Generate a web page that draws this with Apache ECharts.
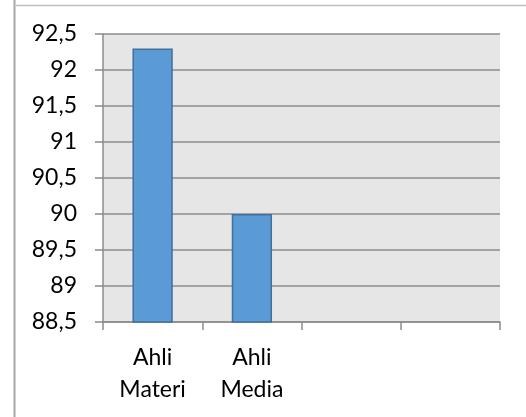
<!DOCTYPE html>
<html><head><meta charset="utf-8">
<script src="https://cdn.jsdelivr.net/npm/echarts@6/dist/echarts.min.js"></script>
<style>html,body{margin:0;padding:0;background:#fff}#c{width:526px;height:417px}</style>
</head><body><div id="c"></div>
<script>
var categories = ['Ahli\nMateri', 'Ahli\nMedia', '', ''];
var values = [92.3, 90.0, null, null];
var yMin = 88.5, yMax = 92.5, yStep = 0.5;

var chart = echarts.init(document.getElementById('c'), null, {renderer: 'canvas'});
var font = 'Lato, "Open Sans", sans-serif';
chart.setOption({
  animation: false,
  graphic: [
    {type: 'line', shape: {x1: 14.5, y1: 0, x2: 14.5, y2: 417}, style: {stroke: '#a6a6a6', lineWidth: 2}},
    {type: 'line', shape: {x1: 14, y1: 5.5, x2: 526, y2: 5.5}, style: {stroke: '#bfbfbf', lineWidth: 1.5}}
  ],
  grid: {left: 103, right: 26, top: 34, bottom: 95, show: true, backgroundColor: '#e6e6e6', borderWidth: 0},
  xAxis: {
    type: 'category', data: categories,
    axisLine: {lineStyle: {color: '#8c8c8c', width: 1.5}},
    axisTick: {show: true, length: 8, lineStyle: {color: '#8c8c8c', width: 1.5}},
    axisLabel: {color: '#000', fontSize: 23, fontFamily: font, lineHeight: 32, margin: 20, interval: 0}
  },
  yAxis: {
    type: 'value', min: yMin, max: yMax, interval: yStep,
    axisLine: {show: true, lineStyle: {color: '#8c8c8c', width: 1.5}},
    axisTick: {show: true, length: 8, lineStyle: {color: '#8c8c8c', width: 1.5}},
    splitLine: {lineStyle: {color: '#8c8c8c', width: 1.5}},
    axisLabel: {color: '#000', fontSize: 23, fontFamily: font, margin: 26,
      formatter: function (v) { return String(Math.round(v * 10) / 10).replace('.', ','); }}
  },
  series: [{
    type: 'bar', data: values, barWidth: '40.6%',
    itemStyle: {color: '#5b9bd5', borderColor: '#41719c', borderWidth: 1.5}
  }]
});
</script></body></html>
